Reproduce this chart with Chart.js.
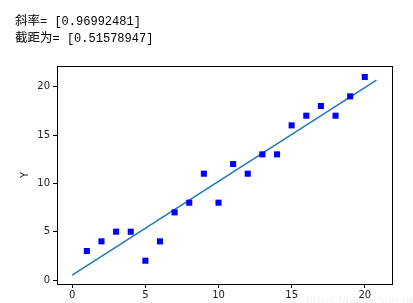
<!DOCTYPE html>
<html>
<head>
<meta charset="utf-8">
<script src="https://cdn.jsdelivr.net/npm/chart.js@4/dist/chart.umd.min.js"></script>
<style>
  html, body { margin: 0; padding: 0; background: #fff; }
  #wrap { position: relative; width: 413px; height: 303px; overflow: hidden; }
  canvas { position: absolute; left: 0; top: 0; }
  .txt { position: absolute; left: 15px; white-space: nowrap; color: #000; line-height: 16px; }
  .cjk { font-family: "Noto Sans CJK SC", sans-serif; font-size: 12.5px; }
  .mono { font-family: "Liberation Mono", "DejaVu Sans Mono", monospace; font-size: 12px; }
  #wm { position: absolute; left: 306px; top: 294px; font-family: "DejaVu Sans", sans-serif; font-size: 11px; color: #f2f2f2; }
</style>
</head>
<body>
<div id="wrap">
  <canvas id="c" width="413" height="303"></canvas>
  <div class="txt" id="l1" style="top:12px;"><span class="cjk">斜率</span><span class="mono">= [0.96992481]</span></div>
  <div class="txt" id="l2" style="top:29px;"><span class="cjk">截距为</span><span class="mono">= [0.51578947]</span></div>
  <div id="wm">https://blog.csdn.net</div>
</div>
<script>
// ---- data ----
const xValues = [1, 2, 3, 4, 5, 6, 7, 8, 9, 10, 11, 12, 13, 14, 15, 16, 17, 18, 19, 20];
const yValues = [3, 4, 5, 5, 2, 4, 7, 8, 11, 8, 12, 11, 13, 13, 16, 17, 18, 17, 19, 21];
const slope = 0.96992481;
const intercept = 0.51578947;
const lineX = [0, 20.8];
const xTicks = [0, 5, 10, 15, 20];
const yTicks = [0, 5, 10, 15, 20];
const yLabel = 'Y';

const scatterData = xValues.map((x, i) => ({ x: x, y: yValues[i] }));
const lineData = lineX.map(x => ({ x: x, y: slope * x + intercept }));

const boxPlugin = {
  id: 'box',
  afterDraw(chart) {
    const { ctx, chartArea: a } = chart;
    ctx.save();
    ctx.strokeStyle = '#000';
    ctx.lineWidth = 1;
    ctx.strokeRect(Math.round(a.left) + 0.5, Math.round(a.top) + 0.5,
                   Math.round(a.right - a.left), Math.round(a.bottom - a.top));
    ctx.restore();
  }
};

const tickFont = { family: 'DejaVu Sans', size: 10 };

new Chart(document.getElementById('c'), {
  type: 'scatter',
  data: {
    datasets: [
      {
        type: 'line',
        data: lineData,
        borderColor: '#1f77b4',
        borderWidth: 1.5,
        pointRadius: 0,
        fill: false,
        order: 2
      },
      {
        data: scatterData,
        pointStyle: 'rect',
        pointRadius: 4.3,
        backgroundColor: '#0000ff',
        borderColor: '#0000ff',
        borderWidth: 0,
        order: 1
      }
    ]
  },
  options: {
    responsive: false,
    animation: false,
    events: [],
    layout: { padding: { top: 66, right: 21, left: 0, bottom: 0 } },
    plugins: { legend: { display: false }, tooltip: { enabled: false } },
    scales: {
      x: {
        type: 'linear',
        min: -1.04,
        max: 21.86,
        afterBuildTicks: s => { s.ticks = xTicks.map(v => ({ value: v })); },
        afterFit: s => { s.height = 19; },
        grid: { drawOnChartArea: false, drawTicks: true, tickLength: 4, color: '#000', tickWidth: 1 },
        border: { display: false },
        ticks: { font: tickFont, color: '#222', padding: 1, maxRotation: 0 }
      },
      y: {
        type: 'linear',
        min: -0.41,
        max: 22.14,
        afterBuildTicks: s => { s.ticks = yTicks.map(v => ({ value: v })); },
        afterFit: s => { s.width = 57; },
        grid: { drawOnChartArea: false, drawTicks: true, tickLength: 4, color: '#000', tickWidth: 1 },
        border: { display: false },
        ticks: { font: tickFont, color: '#222', padding: 3 },
        title: { display: true, text: yLabel, font: tickFont, color: '#222', padding: { top: 19, bottom: 0 } }
      }
    }
  },
  plugins: [boxPlugin]
});
</script>
</body>
</html>
